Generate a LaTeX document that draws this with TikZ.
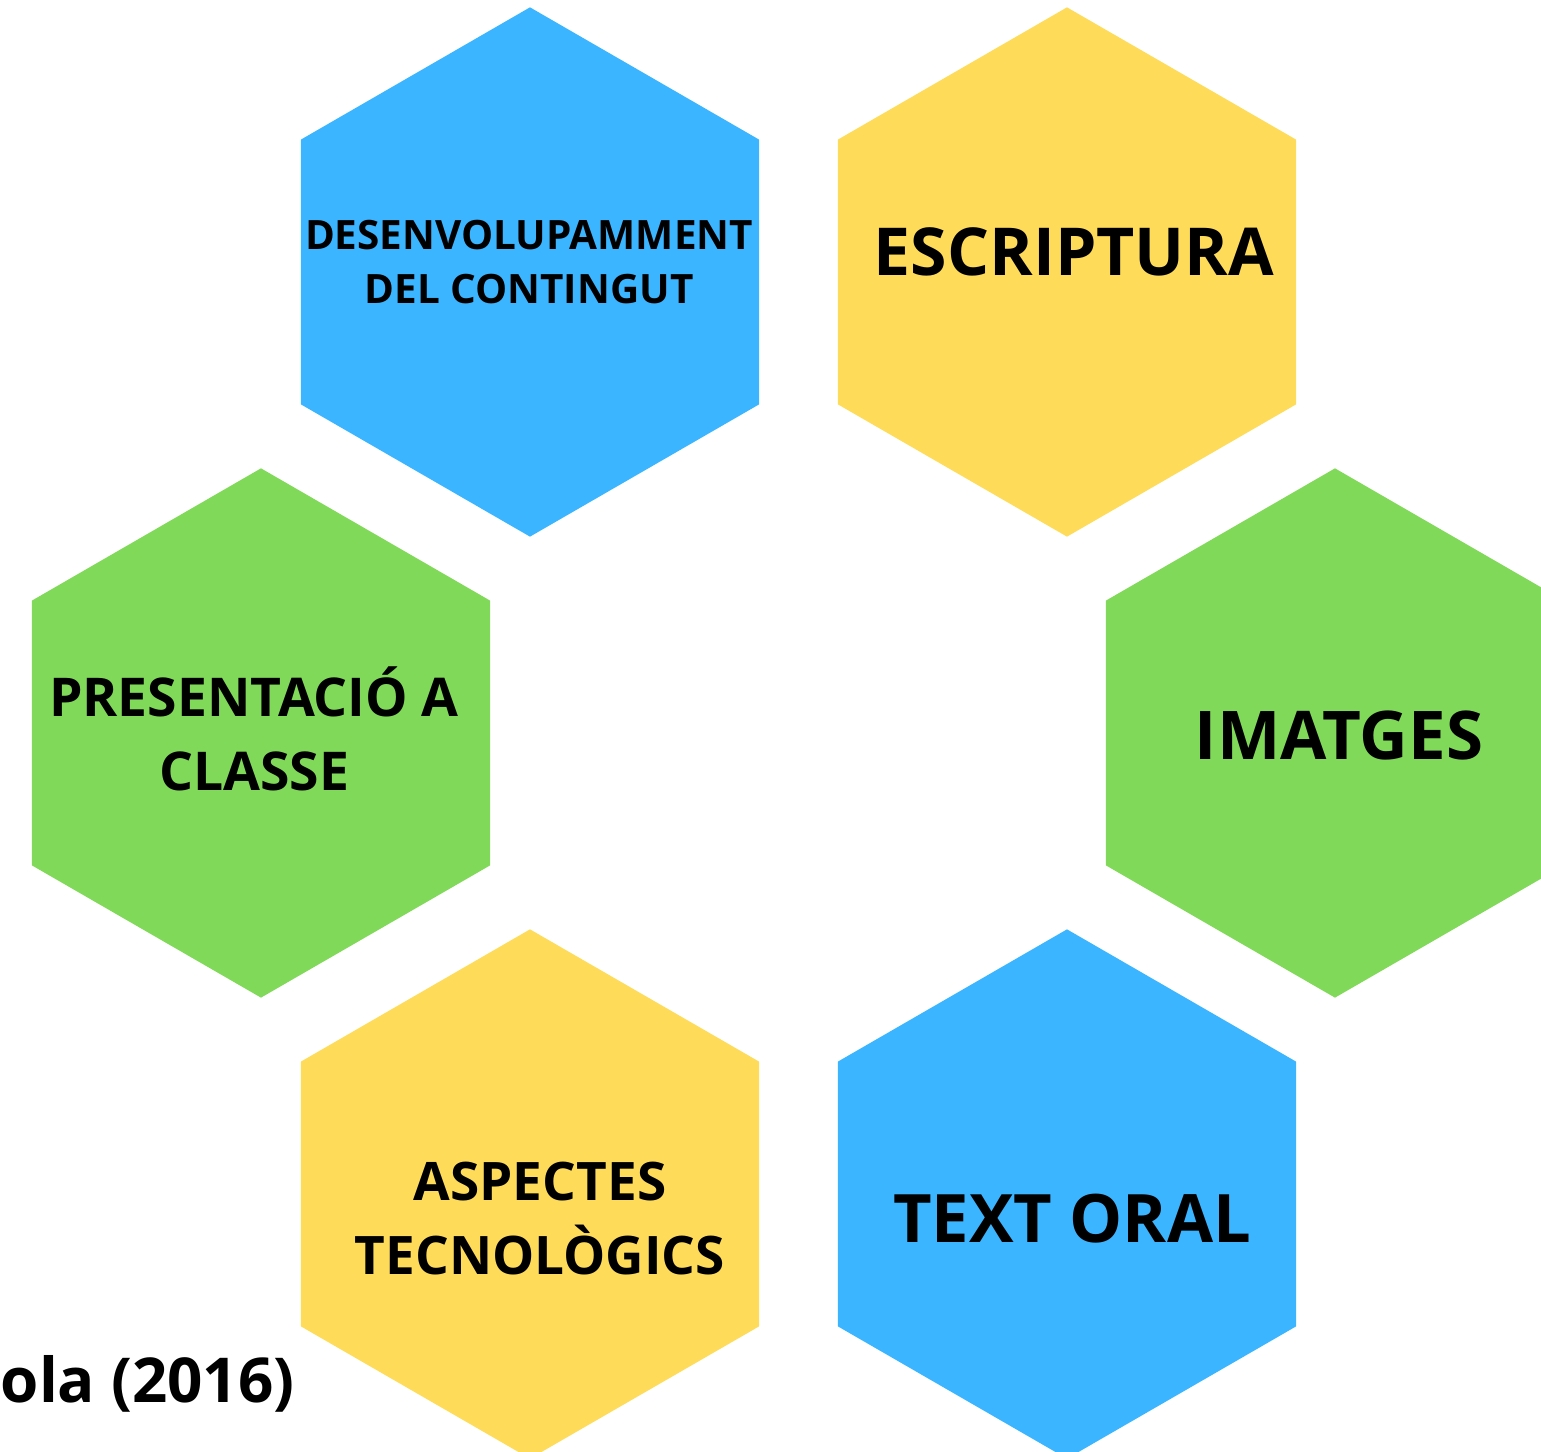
\documentclass[tikz,border=0pt]{standalone}
\usepackage{fontspec}
\setmainfont{Open Sans}
\usepackage{xcolor}
\usetikzlibrary{shapes.geometric}
\definecolor{HexBlue}{HTML}{3BB5FF}
\definecolor{HexYellow}{HTML}{FEDC5A}
\definecolor{HexGreen}{HTML}{80D958}

\begin{document}
\begin{tikzpicture}[x = 0.01cm, y = -0.01cm]
    \useasboundingbox (0, 0) rectangle (1541, 1452);

    \coordinate (D) at ( 530,  272);
    \coordinate (E) at (1067,  272);
    \coordinate (P) at ( 261,  733);
    \coordinate (I) at (1335,  733);
    \coordinate (A) at ( 530, 1194);
    \coordinate (T) at (1067, 1194);

    \begin{scope}[
        every node/.style = {
            shape                 = regular polygon,
            regular polygon sides = 6,
            shape border rotate   = 30,
            inner sep             = 0pt,
            minimum size          = 5.29cm,
        }
    ]
        \node (desenv)      at (D) [fill = HexBlue  ] {};
        \node (escriptura)  at (E) [fill = HexYellow] {};
        \node (presentacio) at (P) [fill = HexGreen ] {};
        \node (imatges)     at (I) [fill = HexGreen ] {};
        \node (aspectes)    at (A) [fill = HexYellow] {};
        \node (textoral)    at (T) [fill = HexBlue  ] {};
    \end{scope}

    \begin{scope}[
        every node/.style = {
            inner sep = 0pt,
            align     = center,
            anchor    = base,
        }
    ]
        \node (desenv-text)      at ( 529,  304) [font = \bfseries\fontsize{11.5}{15.4}\selectfont] {DESENVOLUPAMMENT\\DEL CONTINGUT};
        \node (escriptura-text)  at (1074,  276) [font = \bfseries\fontsize{18.8}{22}\selectfont] {ESCRIPTURA};
        \node (presentacio-text) at ( 254,  791) [font = \bfseries\fontsize{15.2}{21.05}\selectfont] {PRESENTACIÓ A\\CLASSE};
        \node (imatges-text)     at (1339,  760) [font = \bfseries\fontsize{19.1}{23}\selectfont] {IMATGES};
        \node (aspectes-text)    at ( 540, 1275) [font = \bfseries\fontsize{15.1}{21.3}\selectfont] {ASPECTES\\TECNOLÒGICS};
        \node (textoral-text)    at (1072, 1243) [font = \bfseries\fontsize{19}{23}\selectfont] {TEXT ORAL};
        \node (font-text)        at (0, 1403) [anchor = base west, font = \bfseries\fontsize{17.6}{21}\selectfont] {ola (2016)};
    \end{scope}
\end{tikzpicture}
\end{document}
